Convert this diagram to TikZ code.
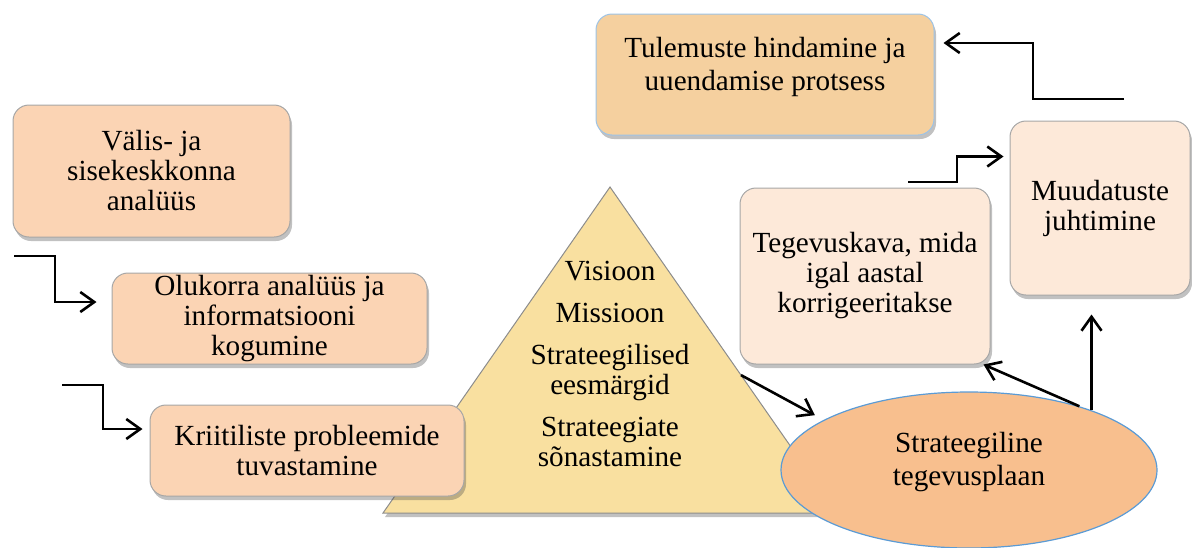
\documentclass[tikz,border=0pt]{standalone}
\usepackage{fontspec}
\setmainfont{Liberation Serif}
\usetikzlibrary{arrows.meta,shapes.geometric,shadows,calc}
\definecolor{peach}{HTML}{FBD4B4}
\definecolor{tan}{HTML}{F5D09F}
\definecolor{pale}{HTML}{FDE9D9}
\definecolor{salmon}{HTML}{F8BF8E}
\definecolor{sand}{HTML}{F9E0A0}
\definecolor{edgeblue}{HTML}{5B9BD5}
\begin{document}
\begin{tikzpicture}[x=0.5pt,y=-0.5pt,
  shade/.style={drop shadow={shadow xshift=1pt,shadow yshift=-2pt,opacity=.35,fill=black!70}},
  box/.style={rectangle, rounded corners=8pt, draw=black!35, line width=.5pt, inner sep=1pt,
    align=center, font=\fontsize{14.6pt}{15pt}\selectfont, shade},
  txt/.style={align=center, inner sep=0pt},
  arr/.style={line width=1.3pt, -{Straight Barb[length=7pt,width=10pt,line width=1.3pt]}}]
\useasboundingbox (0,0) rectangle (1192,547);
% pyramid
\coordinate (apex) at (610,187);
\coordinate (bl) at (383,513);
\coordinate (br) at (837,513);
\draw[fill=sand, draw=black!45, line width=.5pt, shade] (apex) -- (bl) -- (br) -- cycle;
\coordinate (trir) at ($(apex)!0.577!(br)$);
\node[txt, font=\fontsize{14.6pt}{15pt}\selectfont] (pyr) at (610,364) {Visioon\\[6pt] Missioon\\[6pt] Strateegilised\\ eesmärgid\\[6pt] Strateegiate\\ sõnastamine};
% left boxes
\node[box, fill=peach, minimum width=138.5pt, minimum height=66pt] (val) at (151.5,171) {Välis- ja\\ sisekeskkonna\\ analüüs};
\node[box, fill=peach, minimum width=157.5pt, minimum height=45.5pt] (olu) at (269.5,318.5) {Olukorra analüüs ja\\ informatsiooni\\ kogumine};
\node[box, fill=peach, minimum width=157pt, minimum height=45.5pt] (kri) at (307,450.5) {Kriitiliste probleemide\\ tuvastamine};
% right part
\node[box, fill=tan, draw=edgeblue!60, minimum width=169pt, minimum height=60.5pt] (tul) at (765,74.5) {};
\node[txt, font=\fontsize{14.6pt}{16.5pt}\selectfont] (tultext) at (765,67) {Tulemuste hindamine ja\\ uuendamise protsess};
\node[box, fill=pale, minimum width=125pt, minimum height=88pt] (teg) at (865,276) {Tegevuskava, mida\\ igal aastal\\ korrigeeritakse};
\node[box, fill=pale, minimum width=90pt, minimum height=87pt] (muud) at (1100,208) {Muudatuste\\ juhtimine};
\node[ellipse, fill=salmon, draw=edgeblue, line width=.6pt, minimum width=188pt, minimum height=78pt, inner sep=0pt] (plan) at (969,470) {};
\node[txt, font=\fontsize{14.6pt}{16.5pt}\selectfont] (plantext) at (969,462) {Strateegiline\\ tegevusplaan};
% arrows
\coordinate (in1) at (14,256);
\coordinate (in2) at (62,385);
\coordinate (in3) at (908,182);
\coordinate (in4) at (1124,99);
\draw[arr, shorten >=7.5pt] (in1) -- ++(41,0) |- ([yshift=8.25pt]olu.west);
\draw[arr, shorten >=3.5pt] (in2) -- ++(41,0) |- ([yshift=10.75pt]kri.west);
\draw[arr, shorten >=3pt] (in3) -- ++(49,0) |- ([yshift=25.75pt]muud.west);
\draw[arr, shorten >=4.5pt] (in4) -- ++(-91,0) |- ([yshift=15.75pt]tul.east);
\draw[arr, shorten >=5pt] (trir) -- (plan.161);
\draw[arr] (plan.30) -- ([xshift=-3.5pt]teg.south east);
\draw[arr, shorten >=9.5pt] (plan.26) -- (plan.26 |- muud.south);
\end{tikzpicture}
\end{document}
